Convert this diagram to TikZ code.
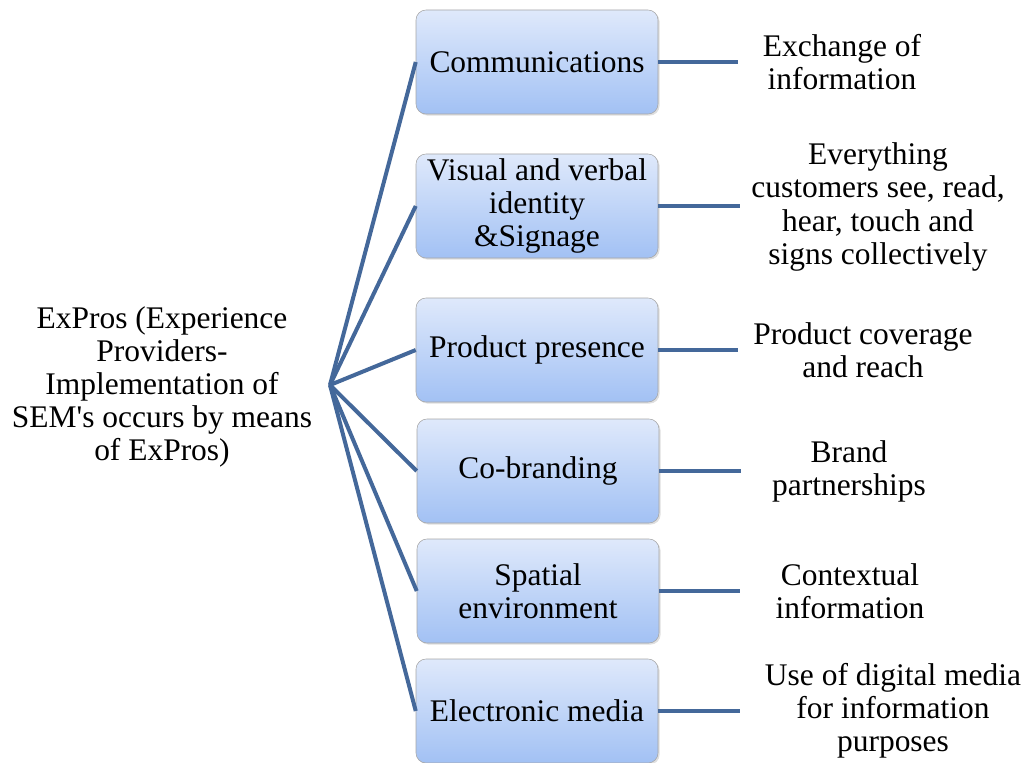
\documentclass[tikz,border=0pt]{standalone}
\usepackage{fontspec}
\setmainfont{Liberation Serif}
\usetikzlibrary{shadows}
\definecolor{linkblue}{HTML}{44689A}
\definecolor{boxtop}{HTML}{DFE9FB}
\definecolor{boxbottom}{HTML}{A2C1F4}
\begin{document}
\begin{tikzpicture}[x=0.75pt,y=-0.75pt,
		font=\fontsize{23.6}{24.8}\selectfont,
		channel/.style={draw=gray!70, rounded corners=7.5pt, top color=boxtop, bottom color=boxbottom,
			minimum width=181.5pt, minimum height=78pt, align=center, inner sep=2pt,
			drop shadow={shadow xshift=1.2pt, shadow yshift=-1.2pt, opacity=0.25}},
		link/.style={draw=linkblue, line width=3pt},
		meaning/.style={align=center, inner sep=0pt}]
		\useasboundingbox (0,0) rectangle (1027,763);
		% Root text
		\node[align=center, inner sep=0pt] (expros) at (162,387) {ExPros (Experience\\Providers-\\Implementation of\\SEM\textquotesingle s occurs by means\\of ExPros)};
		\coordinate (hub) at (330,385);
		% Boxes
		\node[channel] (comm) at (537,62) {Communications};
		\node[channel] (visual) at (537,206) {Visual and verbal\\identity\\\&Signage};
		\node[channel] (product) at (537,350) {Product presence};
		\node[channel] (cobrand) at (538,471) {Co-branding};
		\node[channel] (spatial) at (538,591) {Spatial\\environment};
		\node[channel] (media) at (537,711) {Electronic media};
		% Lines from the root
		\draw[link] (hub) -- (comm.west);
		\draw[link] (hub) -- (visual.west);
		\draw[link] (hub) -- (product.west);
		\draw[link] (hub) -- (cobrand.west);
		\draw[link] (hub) -- (spatial.west);
		\draw[link] (hub) -- (media.west);
		% Line ends on the right
		\coordinate (e1) at (738,62);
		\coordinate (e2) at (740,206);
		\coordinate (e3) at (738,350);
		\coordinate (e4) at (741,471);
		\coordinate (e5) at (740,591);
		\coordinate (e6) at (740,711);
		\draw[link] (comm.east) -- (e1);
		\draw[link] (visual.east) -- (e2);
		\draw[link] (product.east) -- (e3);
		\draw[link] (cobrand.east) -- (e4);
		\draw[link] (spatial.east) -- (e5);
		\draw[link] (media.east) -- (e6);
		% Meanings
		\node[meaning] (m1) at (842,62) {Exchange of\\information};
		\node[meaning] (m2) at (878,207) {Everything\\customers see, read,\\hear, touch and\\signs collectively};
		\node[meaning] (m3) at (863,350) {Product coverage\\and reach};
		\node[meaning] (m4) at (849,471) {Brand\\partnerships};
		\node[meaning] (m5) at (850,591) {Contextual\\information};
		\node[meaning] (m6) at (893,711) {Use of digital media\\for information\\purposes};
	\end{tikzpicture}
\end{document}
